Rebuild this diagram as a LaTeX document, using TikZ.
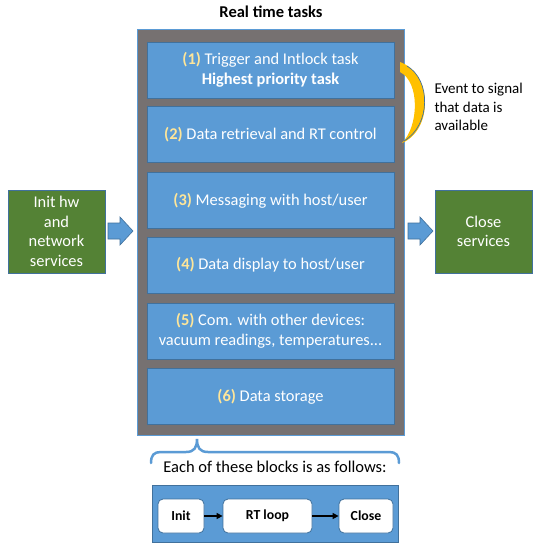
\documentclass[tikz,border=0pt]{standalone}
\usepackage{fontspec}
\setmainfont{Carlito}
\usetikzlibrary{arrows.meta}
\definecolor{oblue}{HTML}{5B9BD5}
\definecolor{oblueline}{HTML}{41719C}
\definecolor{ogray}{HTML}{767171}
\definecolor{ogreen}{HTML}{548235}
\definecolor{ogreenline}{HTML}{41719C}
\definecolor{onum}{HTML}{FFE699}
\definecolor{ogold}{HTML}{FFC000}
\tikzset{
  taskbox/.style={draw=oblueline, line width=0.8pt, fill=oblue, text=white, minimum width=247pt, minimum height=56pt, inner sep=2pt, align=center, font=\fontsize{16.4}{20}\selectfont},
  greenbox/.style={draw=oblueline, line width=0.8pt, fill=ogreen, text=white, minimum width=97pt, minimum height=83pt, inner sep=2pt, align=center, font=\fontsize{16.4}{19.5}\selectfont},
  smallbox/.style={draw=oblueline, line width=0.8pt, fill=white, rounded corners=5pt, minimum height=34pt, inner sep=2pt, font=\bfseries\fontsize{13.8}{15}\selectfont},
  blockarrow/.style={draw=oblueline, line width=0.6pt, fill=oblue},
  flowarrow/.style={-{Triangle[length=6pt,width=6pt]}, line width=1.4pt, black}
}
\newcommand{\nm}[1]{\textcolor{onum}{\textbf{#1}}}
\begin{document}
\begin{tikzpicture}[x={(1pt,0)}, y={(0,-1pt)}]
\useasboundingbox (0,0) rectangle (545,550);
\fill[white] (0,0) rectangle (545,550);

\node[font=\bfseries\fontsize{16.5}{18}\selectfont] (title) at (271,12) {Real time tasks};

\node[draw=oblue, line width=1pt, fill=ogray, minimum width=267pt, minimum height=406pt] (outer) at (270.5,232) {};

\node[taskbox] (t1) at (270.5,70) {\nm{(1)} Trigger and Intlock task\\\textbf{Highest priority task}};
\node[taskbox] (t2) at (270.5,134.5) {\nm{(2)} Data retrieval and RT control};
\node[taskbox] (t3) at (270.5,200.5) {\nm{(3)} Messaging with host/user};
\node[taskbox] (t4) at (270.5,265) {\nm{(4)} Data display to host/user};
\node[taskbox] (t5) at (270.5,331) {\nm{(5)} Com. with other devices:\\vacuum readings, temperatures...};
\node[taskbox] (t6) at (270.5,396.5) {\nm{(6)} Data storage};

\node[greenbox] (init) at (56.5,231.5) {Init hw\\and\\network\\services};
\node[greenbox] (close) at (483.5,231.5) {Close\\services};

% block arrows
\draw[blockarrow] (108,223) -- (120,223) -- (120,217) -- (133,231) -- (120,245) -- (120,239) -- (108,239) -- cycle;
\draw[blockarrow] (408,223) -- (420,223) -- (420,217) -- (433,231) -- (420,245) -- (420,239) -- (408,239) -- cycle;

% curved event arrow
\fill[ogold] (400,62) .. controls (433,74) and (433,130) .. (402,143) .. controls (419,126) and (420,82) .. (400,72) -- cycle;
\draw[oblueline, line width=0.7pt] (407,66) .. controls (431,80) and (431,125) .. (404,141);

\node[align=left, anchor=west, font=\fontsize{15}{18.5}\selectfont] (event) at (431,107) {Event to signal\\that data is\\available};

% brace
\draw[oblue, line width=2.5pt, line cap=round] (151,463) .. controls (151,455) and (154,452) .. (161,452) -- (186,452) .. controls (194,452) and (197,448) .. (197,439) .. controls (197,448) and (200,452) .. (208,452) -- (389,452) .. controls (396,452) and (399,455) .. (399,463);

\node[font=\fontsize{16.5}{18}\selectfont] (each) at (275,467) {Each of these blocks is as follows:};

\node[draw=oblueline, line width=0.8pt, fill=oblue, minimum width=246pt, minimum height=57pt] (blk) at (275,513.5) {};
\node[smallbox, minimum width=46pt] (sinit) at (181,516) {Init};
\node[smallbox, minimum width=89pt] (sloop) at (267.5,516) {RT loop};
\node[smallbox, minimum width=54pt] (sclose) at (366,516) {Close};
\draw[flowarrow] (sinit) -- (sloop);
\draw[flowarrow] (sloop) -- (sclose);
\end{tikzpicture}
\end{document}
